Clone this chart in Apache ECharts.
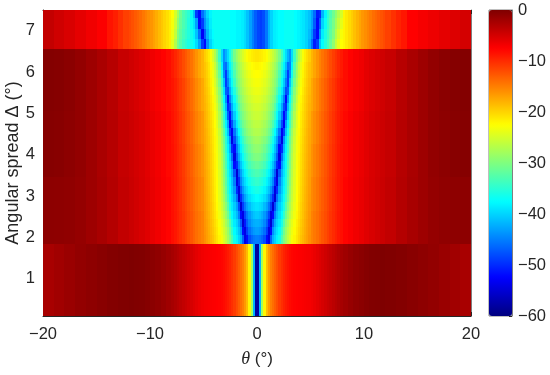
<!DOCTYPE html>
<html lang="en">
<head>
<meta charset="utf-8">
<title>Angular spread</title>
<script src="https://cdn.jsdelivr.net/npm/echarts@6/dist/echarts.min.js"></script>
<style>
html, body { margin: 0; padding: 0; background: #fff; }
#main { width: 550px; height: 375px; }
</style>
</head>
<body>
<div id="main"></div>
<script>
var thetaTicks = [-20, -10, 0, 10, 20];
var deltaTicks = [1, 2, 3, 4, 5, 6, 7];
var cbarTicks = [-60, -50, -40, -30, -20, -10, 0];

// cell edges, |theta| side
var innerEdges = [0, 0.2, 0.4, 0.6, 0.8, 1, 1.2, 1.4, 1.6, 1.8, 2, 2.2, 2.4, 2.6, 2.8, 3, 3.2, 3.4, 3.6, 3.8, 4, 4.2, 4.4, 4.6, 4.8, 5];
var outerEdges = [5, 5.25, 5.5, 5.75, 6, 6.25, 6.5, 6.75, 7, 7.25, 7.5, 7.75, 8, 8.5, 9, 9.5, 10, 10.5, 11, 11.5, 12, 13, 14, 15, 16, 17, 18, 19, 20];
var farEdges = [8, 8.25, 8.5, 8.75, 9, 9.25, 9.5, 9.75, 10, 10.25, 10.5, 10.75, 11, 11.25, 11.5, 11.75, 12, 12.5, 13, 13.5, 14, 15, 16, 17, 18, 19, 20];
var topEdges = [-8, -7.75, -7.5, -7.25, -7, -6.75, -6.5, -6.25, -6, -5.75, -5.5, -5.25, -5, -4.75, -4.5, -4.25, -4, -3.75, -3.5, -3.25, -3, -2.75, -2.5, -2.25, -2, -1.75, -1.5, -1.25, -1, -0.75, -0.5, -0.25, 0, 0.25, 0.5, 0.75, 1, 1.25, 1.5, 1.75, 2, 2.25, 2.5, 2.75, 3, 3.25, 3.5, 3.75, 4, 4.25, 4.5, 4.75, 5, 5.25, 5.5, 5.75, 6, 6.25, 6.5, 6.75, 7, 7.25, 7.5, 7.75, 8];

// Delta edges of the three regimes
var lowDelta = [0.1, 1.85];
var midDelta = [1.85, 2.05, 2.25, 2.45, 2.65, 2.85, 3.05, 3.25, 3.45, 3.65, 3.85, 4.05, 4.25, 4.45, 4.65, 4.85, 5.05, 5.25, 5.45, 5.65, 5.85, 6.05, 6.25, 6.55];
var midOuterDelta = [1.85, 2.65, 3.45, 4.25, 5.05, 5.85, 6.55];
var topDelta = [6.55, 6.8, 7.05, 7.3, 7.5];

// dB, Delta < 1.85
var lowInner = [-58, -42, -28, -22, -18.5, -16.5, -15, -14, -13, -12, -11, -10.2, -9.5, -9, -8.5, -8.1, -7.8, -7.6, -7.5, -7.4, -7.3, -7.2, -7.1, -7, -6.9];
var lowOuter = [-6.7, -6.3, -5.9, -5.5, -5.1, -4.7, -4.3, -3.9, -3.5, -3.1, -2.7, -2.3, -1.9, -1.4, -1, -0.7, -0.4, -0.2, -0.1, 0, -0.1, -0.3, -0.6, -0.9, -1.2, -1.6, -2, -2.4];

// dB, 1.85 < Delta < 6.55, one line per Delta row, theta 0 to 5
var midInner = [
    [-45, -45.5, -46.5, -48, -52, -54, -47, -42, -40, -38, -36.5, -33, -30, -28, -26, -24.5, -23, -22, -21, -20, -19, -18.3, -17.5, -16.8, -16],
    [-43, -43.5, -44.5, -46, -49, -54, -52, -44, -41, -39, -37.5, -34.5, -31, -28.5, -26.5, -25, -23.5, -22.3, -21.2, -20.2, -19.3, -18.5, -17.7, -16.9, -16.2],
    [-42, -42.3, -43, -44.5, -47, -51, -55, -47, -42.5, -40, -38.5, -36, -32.5, -29.5, -27.5, -25.5, -24, -22.8, -21.5, -20.5, -19.5, -18.7, -17.8, -17, -16.3],
    [-40.5, -41, -42, -43.5, -45.5, -48.5, -54, -52, -45, -41.5, -39.5, -37.5, -34.5, -31, -28.5, -26.5, -24.8, -23.3, -22, -20.8, -19.8, -18.9, -18, -17.2, -16.4],
    [-39, -39.5, -40, -41.5, -43, -45.5, -49, -55, -48, -43, -40.5, -38.5, -36, -32.5, -29.5, -27.3, -25.3, -23.7, -22.3, -21, -20, -19, -18.2, -17.4, -16.6],
    [-37.5, -38, -38.5, -39.5, -41, -43, -46, -50, -55, -46, -42, -39.5, -37, -34, -30.8, -28, -25.8, -24, -22.5, -21.2, -20.2, -19.2, -18.3, -17.5, -16.7],
    [-36, -36.5, -37, -38, -39.5, -41, -43.5, -47, -54, -50, -43.5, -40.5, -37.8, -35, -31.5, -28.5, -26, -24.2, -22.6, -21.4, -20.3, -19.3, -18.4, -17.6, -16.8],
    [-34.5, -35, -35.5, -36.5, -38, -39.5, -41.5, -44.5, -50, -54, -45, -41, -38.2, -35.5, -32, -29, -26.3, -24.3, -22.7, -21.5, -20.4, -19.4, -18.5, -17.7, -16.9],
    [-33, -33.5, -34, -35, -36.5, -38, -40, -43, -47, -55, -47.5, -42, -39, -36, -32.5, -29.3, -26.6, -24.5, -22.8, -21.6, -20.5, -19.5, -18.6, -17.8, -17],
    [-31.5, -32, -32.5, -33.5, -35, -36.5, -38.5, -41, -44.5, -50, -52, -43.5, -39.5, -36.8, -33, -29.8, -26.8, -24.7, -22.9, -21.7, -20.6, -19.6, -18.7, -17.9, -17.1],
    [-30, -30.3, -31, -32, -33.5, -35, -37, -39.5, -42.5, -47, -54, -46, -40.5, -37, -33.5, -30, -27, -24.8, -23, -21.8, -20.7, -19.7, -18.8, -18, -17.2],
    [-29, -29.3, -30, -31, -32.3, -33.8, -35.7, -38, -41, -45, -52, -50, -42, -38, -34.5, -30.5, -27.5, -25, -23.2, -22, -20.8, -19.8, -18.9, -18.1, -17.3],
    [-28, -28.3, -29, -29.8, -30.8, -32.3, -34.3, -36.5, -39.5, -43, -48, -54, -44, -39, -35, -31, -28, -25.3, -23.3, -22, -21, -20, -19, -18.2, -17.4],
    [-27, -27.2, -27.8, -28.5, -29.5, -30.8, -32.5, -35, -37.5, -41, -45.5, -53, -49, -41, -36.5, -32, -28.5, -25.7, -23.6, -22.2, -21.1, -20.1, -19.2, -18.3, -17.5],
    [-26.3, -26.5, -27, -27.7, -28.6, -29.8, -31, -33, -35.5, -38.5, -42.5, -48, -53, -43, -38, -33.5, -29.5, -26.5, -24, -22.5, -21.3, -20.3, -19.4, -18.5, -17.7],
    [-25.6, -25.8, -26.2, -26.9, -27.8, -28.9, -30, -31.5, -34, -37, -40.5, -45, -52, -47, -39.5, -34.5, -30.5, -27.2, -24.5, -22.8, -21.5, -20.5, -19.6, -18.7, -17.9],
    [-25, -25.2, -25.6, -26.2, -27, -28, -29, -30.3, -32.5, -35.5, -38.5, -42.5, -48, -50, -41.5, -36, -31.5, -28, -25, -23.2, -21.8, -20.8, -19.8, -18.9, -18.1],
    [-24.3, -24.5, -24.9, -25.5, -26.3, -27.2, -28.2, -29.5, -31, -34, -37, -40.5, -45, -52, -44, -37.5, -32.5, -28.8, -25.8, -23.6, -22.1, -21, -20, -19.1, -18.3],
    [-23.6, -23.8, -24.2, -24.8, -25.5, -26.4, -27.4, -28.6, -30, -32.5, -35.5, -38.5, -42.5, -48, -47, -39, -33.5, -29.5, -26.5, -24.2, -22.5, -21.3, -20.2, -19.3, -18.5],
    [-23, -23.2, -23.6, -24.2, -24.9, -25.8, -26.8, -28, -29.3, -31, -34, -37, -40.5, -45, -49, -41, -35, -30.5, -27.3, -24.8, -23, -21.6, -20.5, -19.5, -18.7],
    [-22.5, -22.7, -23, -23.6, -24.3, -25.2, -26.2, -27.4, -28.7, -30.3, -33, -36, -39, -43, -49, -44, -36.5, -31.5, -28, -25.3, -23.4, -22, -20.8, -19.8, -18.9],
    [-22, -22.2, -22.5, -23, -23.7, -24.6, -25.6, -26.8, -28, -29.6, -32, -35, -38, -41.5, -46, -45, -38, -32.5, -28.8, -25.8, -23.8, -22.2, -21, -20, -19.1],
    [-21, -21.2, -21.5, -22, -22.7, -23.6, -24.6, -25.8, -27, -28.5, -30.5, -33.5, -36.5, -39.5, -42, -44, -39.5, -34, -30, -27, -24.8, -22.9, -21.5, -20.5, -19.6]
];

// dB, same band, theta 5 to 20, six Delta rows
var midOuter = [
    [-15.2, -14.6, -14, -13.3, -12.6, -12, -11.3, -10.6, -10, -9.4, -8.8, -8.3, -7.7, -7.2, -6.7, -6.2, -5.7, -5.2, -4.8, -4.4, -3.9, -3.1, -2.4, -1.8, -1.3, -1, -0.9, -0.8],
    [-15.6, -15, -14.3, -13.6, -12.9, -12.2, -11.5, -10.8, -10.1, -9.5, -8.9, -8.4, -7.7, -7.2, -6.7, -6.2, -5.7, -5.2, -4.8, -4.4, -3.9, -3.1, -2.4, -1.8, -1.3, -1, -0.9, -0.8],
    [-16.1, -15.3, -14.6, -13.9, -13.1, -12.4, -11.7, -10.9, -10.2, -9.6, -9, -8.4, -7.9, -7.3, -6.8, -6.3, -5.8, -5.3, -4.9, -4.5, -4.1, -3.2, -2.5, -1.8, -1.2, -0.8, -0.5, -0.4],
    [-16.6, -15.8, -15, -14.2, -13.4, -12.6, -11.9, -11.1, -10.4, -9.7, -9.1, -8.5, -7.9, -7.3, -6.8, -6.3, -5.8, -5.3, -4.9, -4.5, -4.1, -3.2, -2.5, -1.8, -1.2, -0.8, -0.5, -0.4],
    [-17.4, -16.4, -15.5, -14.6, -13.8, -13, -12.2, -11.4, -10.7, -10, -9.3, -8.7, -8.2, -7.6, -7.1, -6.6, -6, -5.5, -5.1, -4.7, -4.2, -3.3, -2.5, -1.8, -1.2, -0.7, -0.4, -0.3],
    [-18.2, -17.2, -16.2, -15.2, -14.3, -13.5, -12.7, -11.9, -11.1, -10.4, -9.7, -9, -8.2, -7.6, -7.1, -6.6, -6, -5.5, -5.1, -4.7, -4.2, -3.3, -2.5, -1.8, -1.2, -0.7, -0.4, -0.3]
];

// dB, Delta > 6.55, theta -8 to 8
var topRows = [
    [-24, -27, -30.5, -32.5, -34, -35, -36, -36.5, -37.5, -39.5, -43, -49, -52, -44, -40, -38, -37, -37, -37, -37, -37, -37, -37.5, -37.5, -38, -38, -38.5, -39.5, -41, -43, -45, -47,
     -48.5, -49, -48, -45.5, -42, -40, -38.5, -38, -37.5, -37.5, -37, -37, -37, -37, -37.5, -38, -38.5, -39, -40, -42, -46, -51, -49, -41, -37.5, -35.5, -33.5, -31.5, -29, -26, -24, -22.5],
    [-23.5, -26, -30, -32, -33.5, -34.5, -35.5, -36.5, -38, -41, -46, -53, -47, -42, -39, -37.5, -37, -37, -37, -37, -37, -37, -37.5, -37.5, -38, -38, -38.5, -39.5, -41, -43, -45, -47,
     -48.5, -49, -48, -45.5, -42, -40, -38.5, -38, -37.5, -37.5, -37, -37, -37, -37, -37.5, -38, -38.5, -39, -40, -41.5, -44, -49, -52, -44, -38.5, -36, -34, -32, -30, -27, -25, -23],
    [-23, -25.5, -29, -31.5, -33, -34, -35.5, -37, -39, -43, -52, -49, -44, -41, -38.5, -37, -37, -37, -37, -37, -37, -37, -37.5, -37.5, -38, -38, -38.5, -39.5, -41, -43, -45, -47,
     -48.5, -49, -48, -45.5, -42, -40, -38.5, -38, -37.5, -37.5, -37, -37, -37, -37, -37.5, -38, -38.5, -39, -40, -41, -43, -47, -52, -47, -40, -37, -34.5, -32.5, -30.5, -28, -26, -24],
    [-22.5, -25, -28, -31, -33, -34, -35, -37, -41, -49, -52, -46, -43, -40, -38, -37, -37, -37, -37, -37, -37, -37, -37.5, -37.5, -38, -38, -38.5, -39.5, -41, -43, -45, -47,
     -48.5, -49, -48, -45.5, -42, -40, -38.5, -38, -37.5, -37.5, -37, -37, -37, -37, -37.5, -38, -38.5, -39, -40, -41, -43, -46, -51, -50, -42, -38, -35, -33, -31, -29, -27, -25]
];
var topFarLeft = [-21.5, -20.7, -20, -19.2, -18.5, -17.7, -17, -16.3, -15.8, -15.2, -14.5, -13.8, -13.3, -12.8, -12.2, -11.7, -11.2, -10.3, -9.3, -8.6, -7.3, -6.7, -6, -5.3, -4.7, -4];
var topFarRight = [-22, -21.2, -20.4, -19.6, -18.8, -18, -17.2, -16.4, -15.9, -15.3, -14.7, -14, -13.5, -13, -12.4, -11.9, -11.3, -10.4, -9.5, -8.8, -7.5, -7, -6.5, -6, -5.5, -5];

var jet = ['#00007f', '#0000ff', '#007fff', '#00ffff', '#7fff7f', '#ffff00', '#ff7f00', '#ff0000', '#7f0000'];
var inkColor = '#262626';
var fontName = '"Liberation Sans", Arial, sans-serif';

var cells = [];
function addBlock(edges, deltas, rows) {
    for (var r = 0; r < rows.length; r++) {
        for (var c = 0; c < rows[r].length; c++) {
            cells.push([edges[c], edges[c + 1], deltas[r], deltas[r + 1], rows[r][c]]);
        }
    }
}
function negate(edges) {
    return edges.map(function (e) { return -e; });
}
function addBothSides(edges, deltas, rows) {
    addBlock(edges, deltas, rows);
    addBlock(negate(edges), deltas, rows);
}
addBothSides(innerEdges, lowDelta, [lowInner]);
addBothSides(outerEdges, lowDelta, [lowOuter]);
addBothSides(innerEdges, midDelta, midInner);
addBothSides(outerEdges, midOuterDelta, midOuter);
addBlock(topEdges, topDelta, topRows);
addBlock(negate(farEdges), [6.55, 7.5], [topFarLeft]);
addBlock(farEdges, [6.55, 7.5], [topFarRight]);

function minusLabel(v) {
    return String(v).replace('-', '\u2212');
}

function renderCell(params, api) {
    var a = api.coord([api.value(0), api.value(3)]);
    var b = api.coord([api.value(1), api.value(2)]);
    var x0 = Math.round(Math.min(a[0], b[0]));
    var x1 = Math.round(Math.max(a[0], b[0]));
    var y0 = Math.round(Math.min(a[1], b[1]));
    var y1 = Math.round(Math.max(a[1], b[1]));
    return {
        type: 'rect',
        shape: { x: x0, y: y0, width: x1 - x0, height: y1 - y0 },
        style: { fill: api.visual('color') }
    };
}

var lineStyle = { color: inkColor, width: 1 };
var tickFont = 16.5;

var chart = echarts.init(document.getElementById('main'));
chart.setOption({
    animation: false,
    backgroundColor: '#fff',
    grid: [
        { left: 43, top: 10, width: 428, height: 306, show: false, outerBoundsMode: 'none' },
        { left: 489, top: 10, width: 23, height: 306, show: true, borderColor: '#7f7f7f', borderWidth: 1, outerBoundsMode: 'none' }
    ],
    xAxis: [
        {
            type: 'value', gridIndex: 0, min: -20, max: 20, position: 'bottom',
            name: '{i|\u03b8} (\u00b0)', nameLocation: 'middle', nameGap: 34, nameMoveOverlap: false,
            nameTextStyle: {
                color: inkColor, fontSize: 17, fontFamily: fontName,
                rich: { i: { fontStyle: 'italic', fontFamily: '"Liberation Serif", serif', fontSize: 18, color: inkColor } }
            },
            splitLine: { show: false },
            axisLine: { show: true, onZero: false, lineStyle: lineStyle },
            axisTick: { show: true, inside: true, length: 4, lineStyle: lineStyle, customValues: thetaTicks },
            axisLabel: { show: true, margin: 10, formatter: minusLabel, customValues: thetaTicks, color: inkColor, fontSize: tickFont, fontFamily: fontName }
        },
        {
            type: 'value', gridIndex: 0, min: -20, max: 20, position: 'top',
            splitLine: { show: false },
            axisLine: { show: true, onZero: false, lineStyle: lineStyle },
            axisTick: { show: true, inside: true, length: 4, lineStyle: lineStyle, customValues: thetaTicks },
            axisLabel: { show: false }
        },
        { type: 'value', gridIndex: 1, min: 0, max: 1, show: false }
    ],
    yAxis: [
        {
            type: 'value', gridIndex: 0, min: 0.1, max: 7.5, position: 'left',
            name: 'Angular spread \u0394 (\u00b0)', nameLocation: 'middle', nameGap: 21, nameMoveOverlap: false,
            nameTextStyle: { color: inkColor, fontSize: 18, fontFamily: fontName },
            splitLine: { show: false },
            axisLine: { show: true, onZero: false, lineStyle: lineStyle },
            axisTick: { show: true, inside: true, length: 4, lineStyle: lineStyle, customValues: deltaTicks },
            axisLabel: { show: true, margin: 8, customValues: deltaTicks, color: inkColor, fontSize: tickFont, fontFamily: fontName }
        },
        {
            type: 'value', gridIndex: 0, min: 0.1, max: 7.5, position: 'right',
            splitLine: { show: false },
            axisLine: { show: true, onZero: false, lineStyle: { color: '#7f7f7f', width: 1 } },
            axisTick: { show: true, inside: true, length: 4, lineStyle: lineStyle, customValues: deltaTicks },
            axisLabel: { show: false }
        },
        {
            type: 'value', gridIndex: 1, min: -60, max: 0, position: 'right',
            splitLine: { show: false },
            axisLine: { show: true, onZero: false, lineStyle: { color: '#7f7f7f', width: 1 } },
            axisTick: { show: true, inside: true, length: 3, lineStyle: lineStyle, customValues: cbarTicks },
            axisLabel: { show: true, margin: 6, formatter: minusLabel, customValues: cbarTicks, color: inkColor, fontSize: tickFont, fontFamily: fontName }
        }
    ],
    visualMap: {
        type: 'continuous',
        min: -60,
        max: 0,
        dimension: 4,
        seriesIndex: 0,
        calculable: false,
        hoverLink: false,
        realtime: false,
        left: 489,
        top: 10,
        padding: 0,
        itemWidth: 23,
        itemHeight: 306,
        inRange: { color: jet }
    },
    series: [{
        type: 'custom',
        xAxisIndex: 0,
        yAxisIndex: 0,
        coordinateSystem: 'cartesian2d',
        renderItem: renderCell,
        encode: { x: [0, 1], y: [2, 3] },
        data: cells,
        silent: true,
        progressive: 0,
        z: 1
    }]
});
</script>
</body>
</html>
